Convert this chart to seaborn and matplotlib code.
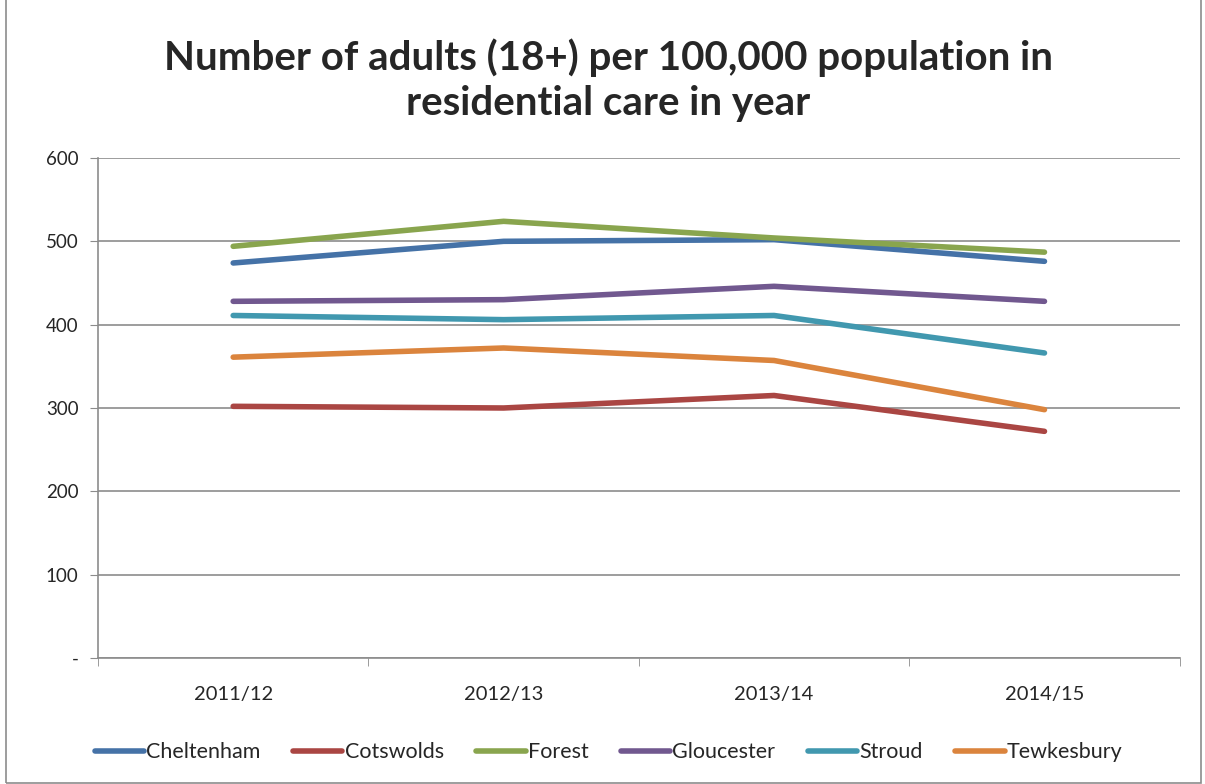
import matplotlib.pyplot as plt
import seaborn as sns
import pandas as pd
from matplotlib.patches import Rectangle
from matplotlib.ticker import FixedLocator

# data
years = ['2011/12', '2012/13', '2013/14', '2014/15']
cheltenham = [474, 500, 502, 476]
cotswolds = [302, 300, 315, 272]
forest = [494, 524, 504, 487]
gloucester = [428, 430, 446, 428]
stroud = [411, 406, 411, 366]
tewkesbury = [361, 372, 357, 298]

districts = ['Cheltenham', 'Cotswolds', 'Forest', 'Gloucester', 'Stroud', 'Tewkesbury']
colours = ['#4572A7', '#AA4643', '#89A54E', '#71588F', '#4198AF', '#DB843D']

series = [cheltenham, cotswolds, forest, gloucester, stroud, tewkesbury]
rows = []
for name, vals in zip(districts, series):
    for yr, v in zip(years, vals):
        rows.append({'year': yr, 'district': name, 'value': v})
df = pd.DataFrame(rows)

sns.set_style('white')
plt.rcParams['font.family'] = ['Lato', 'DejaVu Sans']

fig = plt.figure(figsize=(12.05, 7.84), dpi=100)
ax = fig.add_axes([0.0813, 0.1607, 0.979 - 0.0813, 0.7985 - 0.1607])

sns.lineplot(data=df, x='year', y='value', hue='district', hue_order=districts,
             palette=colours, linewidth=4, sort=False, ax=ax,
             solid_capstyle='round')

ax.set_xlim(-0.5, 3.5)
ax.set_ylim(0, 600)
ax.set_xlabel('')
ax.set_ylabel('')

# y axis
ax.set_yticks([0, 100, 200, 300, 400, 500, 600])
ax.set_yticklabels(['-', '100', '200', '300', '400', '500', '600'], fontsize=13.5)
ax.yaxis.grid(True, color='#8c8c8c', linewidth=1.2)
ax.set_axisbelow(True)

# x axis: labels centred, tick marks between categories
ax.set_xticks(range(len(years)))
ax.set_xticklabels(years, fontsize=14.5)
ax.xaxis.set_minor_locator(FixedLocator([-0.5, 0.5, 1.5, 2.5, 3.5]))
ax.tick_params(axis='x', which='major', length=0, pad=20)
ax.tick_params(axis='x', which='minor', length=6, color='#8c8c8c', direction='out', bottom=True)
ax.tick_params(axis='y', length=6, color='#8c8c8c', direction='out', left=True, pad=8)

for s in ['top', 'right']:
    ax.spines[s].set_visible(False)
for s in ['left', 'bottom']:
    ax.spines[s].set_color('#8c8c8c')
    ax.spines[s].set_linewidth(1.2)

ax.legend(loc='upper center', bbox_to_anchor=(0.472, -0.13), ncol=6, frameon=False,
          fontsize=15.5, handlelength=2.3, handletextpad=0.1, columnspacing=1.5)

fig.text(0.505, 0.898, 'Number of adults (18+) per 100,000 population in\nresidential care in year',
         ha='center', va='center', fontsize=29, fontweight='bold', linespacing=1.25)

fig.patches.append(Rectangle((0.005, 0.001), 0.992, 1.2, transform=fig.transFigure,
                             fill=False, edgecolor='#8c8c8c', linewidth=1.2))

fig.savefig('out.png', dpi=100)
